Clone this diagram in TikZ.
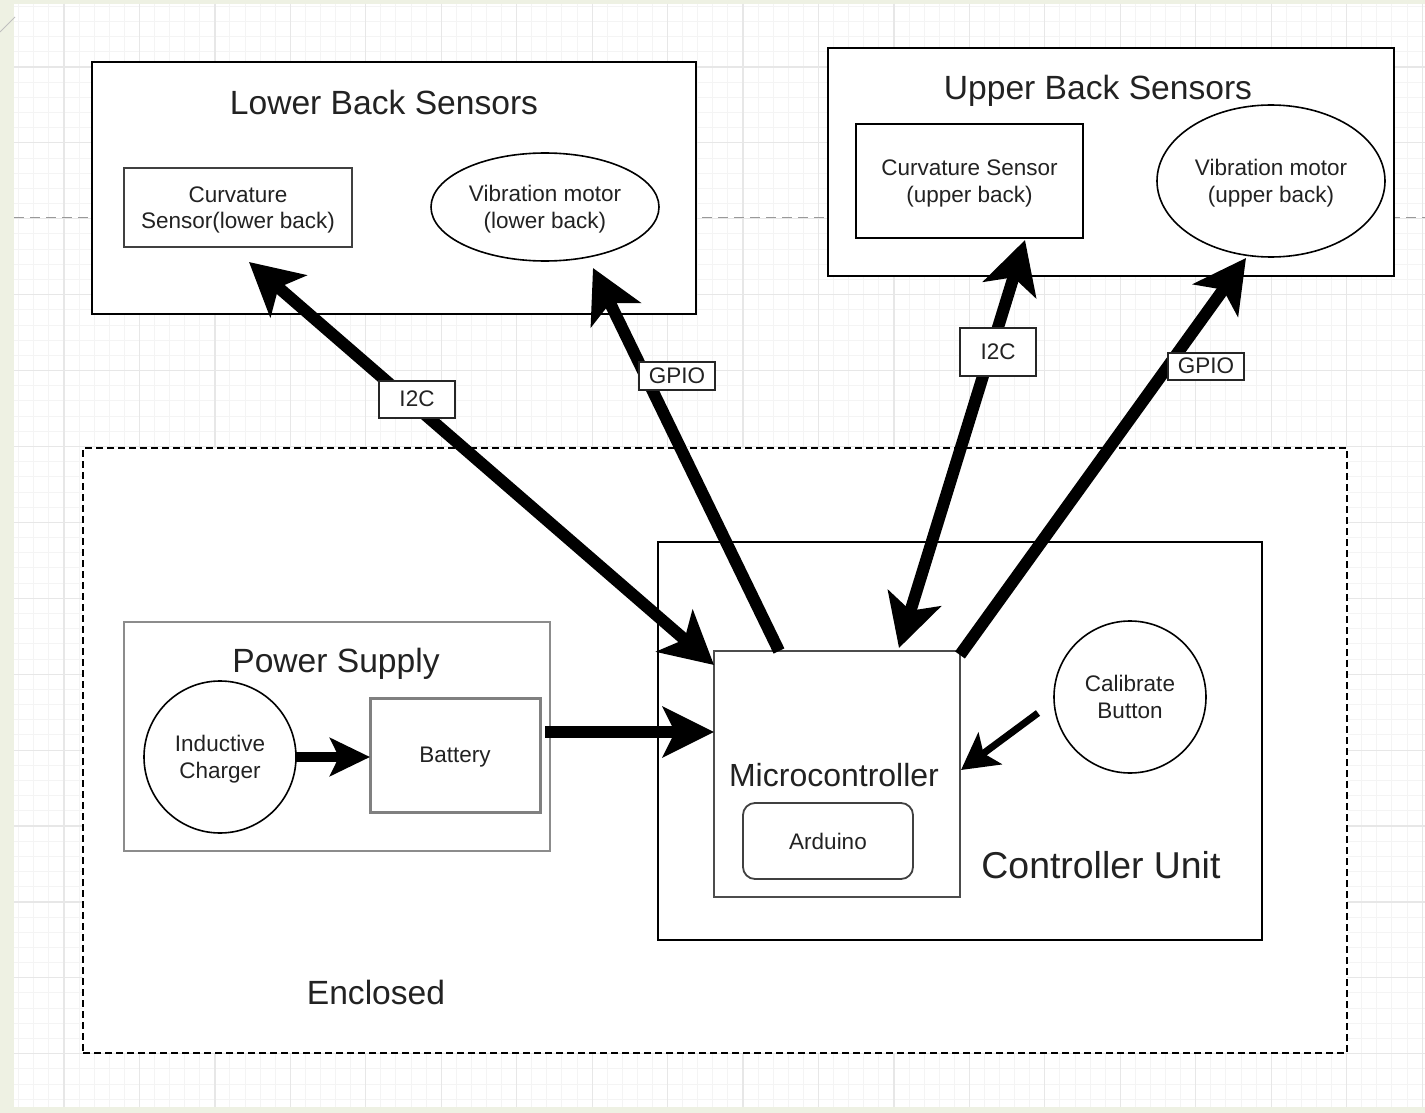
\documentclass[tikz,border=0pt]{standalone}
\usepackage{fontspec}
\setmainfont{Liberation Sans}
\usetikzlibrary{arrows.meta,calc,shapes.geometric}
\definecolor{ink}{HTML}{222222}
\definecolor{pagebg}{HTML}{EEF1E3}
\definecolor{gridmajor}{HTML}{E7E7E7}
\definecolor{gridminor}{HTML}{F4F4F4}
\tikzset{bushead/.tip={Stealth[length=26pt, width=27.5pt, inset=6.5pt]}}
\begin{document}
\begin{tikzpicture}[x=0.5pt,y=-0.5pt,
  txtS/.style={font=\fontsize{11.25}{13.3}\selectfont, text=ink, align=center, text depth=0pt},
  txtL/.style={font=\fontsize{16.8}{20}\selectfont, text=ink, text depth=0pt},
  plain/.style={rectangle, inner sep=0pt, outer sep=0pt, fill=white},
  grpbox/.style={plain, draw=black, line width=1pt},
  partbox/.style={plain, draw=black, line width=1pt},
  greybox/.style={plain, draw=black!50, line width=1.5pt},
  ellip/.style={ellipse, draw=black, line width=0.8pt, fill=white, inner sep=0pt, outer sep=0pt},
  roundpart/.style={circle, draw=black, line width=0.8pt, fill=white, inner sep=0pt, outer sep=0pt, minimum size=76pt},
  buslabel/.style={plain, draw=black!85, line width=1pt, minimum width=38pt, txtS},
  bus/.style={line width=6pt, draw=black},
]
% page and grid
\useasboundingbox (0,0) rectangle (1425,1113);
\fill[pagebg] (0,0) rectangle (1425,1113);
\fill[white] (14,4) rectangle (1425,1107);
\draw[black!25, line width=0.5pt] (0,32) -- (15,17);
\begin{scope}
  \clip (14,4) rectangle (1425,1107);
  \foreach \i in {-3,...,90} {
    \pgfmathsetmacro\xx{64+\i*15.09}
    \draw[gridminor, line width=0.5pt] (\xx,4) -- (\xx,1107);
  }
  \foreach \j in {-4,...,68} {
    \pgfmathsetmacro\yy{67+\j*15.18}
    \draw[gridminor, line width=0.5pt] (14,\yy) -- (1425,\yy);
  }
  \foreach \i in {0,...,18} {
    \pgfmathsetmacro\xx{64+\i*75.45}
    \draw[gridmajor, line width=0.6pt] (\xx,4) -- (\xx,1107);
  }
  \foreach \j in {-1,...,14} {
    \pgfmathsetmacro\yy{67+\j*75.9}
    \draw[gridmajor, line width=0.6pt] (14,\yy) -- (1425,\yy);
  }
\end{scope}
\draw[black!40, line width=0.5pt, dash pattern=on 5pt off 3pt] (14,217) -- (1425,217);

% sensor groups
\node[grpbox, minimum width=302pt, minimum height=126pt] (lbs) at (394,188) {};
\node[txtL] (lbsT) at (384,102) {Lower Back Sensors};
\node[partbox, draw=black!75, line width=1.2pt, minimum width=114pt, minimum height=39.5pt, txtS] (curvL) at (238,207.5) {Curvature\\Sensor(lower back)};
\node[ellip, minimum width=114pt, minimum height=54pt, txtS] (vibL) at (545,207) {Vibration motor\\(lower back)};

\node[grpbox, minimum width=283pt, minimum height=114pt] (ubs) at (1111,162) {};
\node[txtL] (ubsT) at (1098,87) {Upper Back Sensors};
\node[partbox, minimum width=113.5pt, minimum height=57pt, txtS] (curvU) at (969.5,181) {Curvature Sensor\\(upper back)};
\node[ellip, minimum width=114pt, minimum height=76pt, txtS] (vibU) at (1271,181) {Vibration motor\\(upper back)};

% enclosure
\node[plain, draw=black, line width=1pt, dash pattern=on 3.5pt off 2pt, minimum width=632pt, minimum height=302.5pt] (encl) at (715,750.5) {};
\node[txtL] (enclT) at (376,992) {Enclosed};

% power supply
\node[plain, draw=black!45, line width=1.4pt, minimum width=213pt, minimum height=114.5pt] (psu) at (337,736.5) {};
\node[txtL] (psuT) at (336,660) {Power Supply};
\node[roundpart, txtS] (charger) at (220,757) {Inductive\\Charger};
\node[greybox, minimum width=85pt, minimum height=57pt, txtS] (battery) at (455,755) {Battery};

% controller unit
\node[grpbox, minimum width=302pt, minimum height=199pt] (ctrl) at (960,741) {};
\node[font=\fontsize{18.7}{22}\selectfont, text=ink] (ctrlT) at (1101,865) {Controller Unit};
\node[partbox, draw=black!70, line width=1pt, minimum width=123pt, minimum height=123pt] (micro) at (837,774) {};
\node[font=\fontsize{16}{19}\selectfont, text=ink] (microT) at (834,775) {Microcontroller};
\node[partbox, draw=black!75, line width=0.9pt, rounded corners=6pt, minimum width=85pt, minimum height=38pt, txtS] (arduino) at (828,841) {Arduino};
\node[roundpart, txtS] (calib) at (1130,697) {Calibrate\\Button};

% buses to the sensors
\draw[bus, bushead-bushead] ($(micro.north west)+(0,14)$) -- ($(curvL.south)+(11,15)$);
\draw[bus, -bushead] ($(micro.north)+(-58,0)$) -- ($(vibL.south)+(48,7)$);
\draw[bus, bushead-bushead] ($(micro.north)+(62,-3)$) -- ($(curvU.south)+(55.5,2)$);
\draw[bus, -bushead] ($(micro.north east)+(0,4)$) -- ($(vibU.south)+(-25,1)$);

% power and button
\draw[line width=5pt, -{Stealth[length=20pt, width=19pt, inset=4.5pt]}] (charger.east) -- (battery.west |- charger.east);
\draw[bus, -{Stealth[length=25.5pt, width=25pt, inset=6pt]}] ($(battery.east)+(5,-23)$) -- ($(micro.west)+(0,-42)$);
\draw[line width=3.5pt, -{Stealth[length=18pt, width=19.5pt, inset=4pt]}] ($(calib.west)+(-16,16)$) -- ($(micro.east)+(1,-4)$);

% bus labels
\node[buslabel, minimum height=18.5pt] (i2cL) at (417,399) {I2C};
\node[buslabel, minimum height=14pt] (gpioL) at (677,376) {GPIO};
\node[buslabel, minimum height=24pt] (i2cU) at (998,352) {I2C};
\node[buslabel, minimum height=13.5pt] (gpioU) at (1206,366) {GPIO};
\end{tikzpicture}
\end{document}
